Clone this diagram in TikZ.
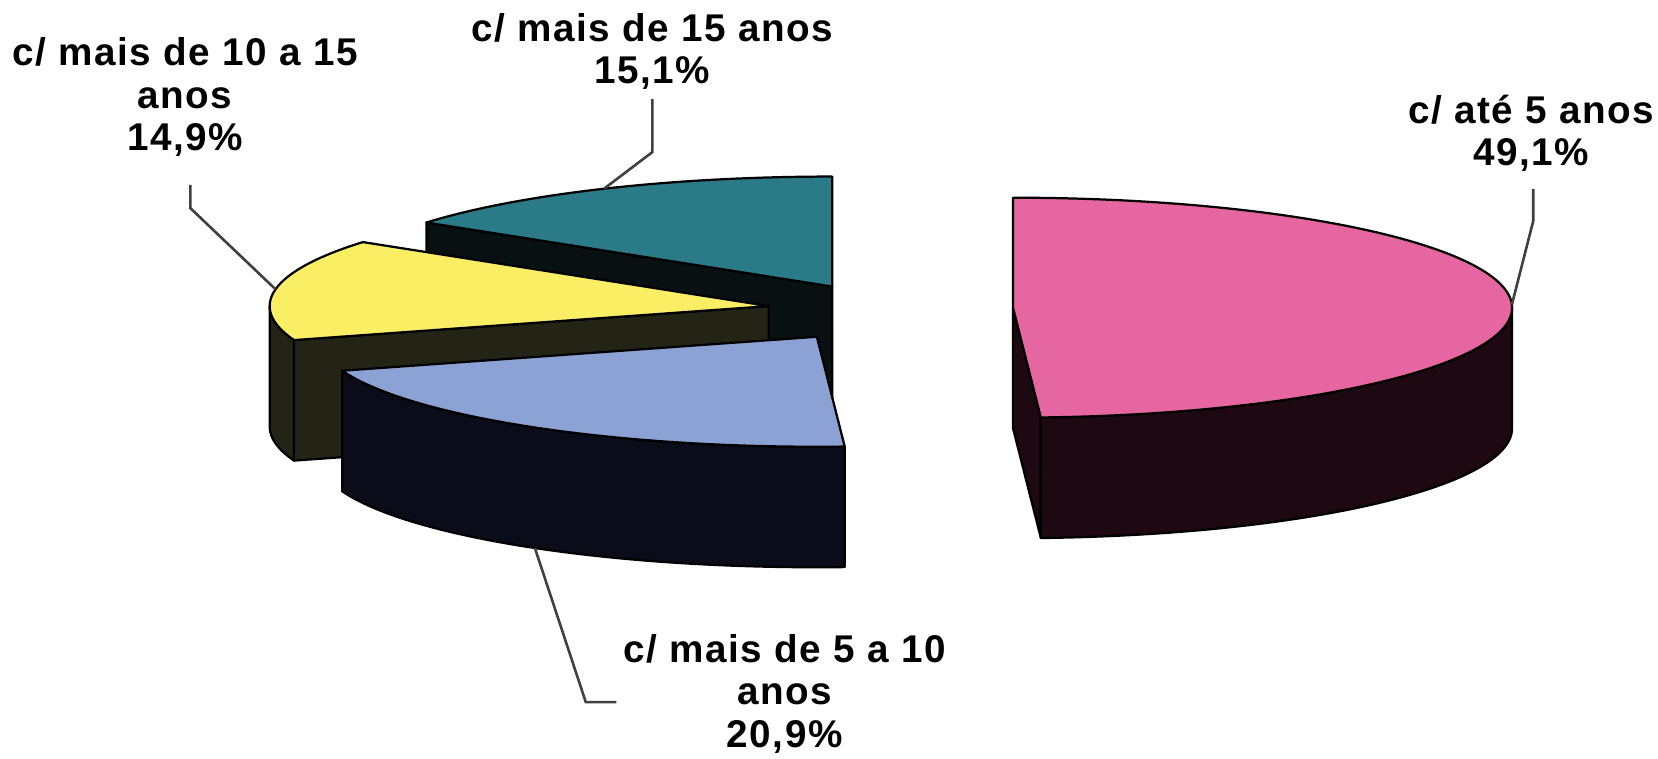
\documentclass[tikz,border=0pt]{standalone}
\usepackage{fontspec}
\newfontfamily\pielabel[LetterSpace=4]{Liberation Sans}

\definecolor{tealtop}{RGB}{42,122,136}
\definecolor{tealside}{RGB}{8,16,18}
\definecolor{yeltop}{RGB}{250,238,100}
\definecolor{yelside}{RGB}{36,36,22}
\definecolor{bluetop}{RGB}{140,162,212}
\definecolor{blueside}{RGB}{10,12,26}
\definecolor{pinktop}{RGB}{230,102,162}
\definecolor{pinkside}{RGB}{30,8,18}

\tikzset{
  slice/.style={draw=black, line width=0.6pt, line join=round},
  leader/.style={draw=black!75, line width=0.7pt},
  pielbl/.style={align=center, inner sep=0pt,
    font=\pielabel\bfseries\fontsize{10.4}{11.4}\selectfont},
}

\begin{document}
\begin{tikzpicture}
        \useasboundingbox (0,0) rectangle (15.68,7.17);

        % slice centres (exploded)
        \coordinate (tc) at (7.87,4.46);
        \coordinate (yc) at (7.27,4.275);
        \coordinate (bc) at (7.725,3.985);
        \coordinate (pc) at (9.58,4.26);

        % teal slice: 90 -- 144.4
        \draw[slice, fill=tealside] (tc) -- ++(144.4:4.72 and 1.04) -- ++(0,-1.14) -- ([yshift=-1.14cm]tc) -- cycle;
        \draw[slice, fill=tealtop] (tc) -- ++(90:4.72 and 1.04) arc[start angle=90, end angle=144.4, x radius=4.72, y radius=1.04] -- cycle;

        % yellow slice: 144.4 -- 198
        \draw[slice, fill=yelside] (yc) ++(180:4.72 and 1.04) arc[start angle=180, end angle=198, x radius=4.72, y radius=1.04] -- ++(0,-1.14) arc[start angle=198, end angle=180, x radius=4.72, y radius=1.04] -- cycle;
        \draw[slice, fill=yelside] (yc) -- ++(198:4.72 and 1.04) -- ++(0,-1.14) -- ([yshift=-1.14cm]yc) -- cycle;
        \draw[slice, fill=yeltop] (yc) -- ++(144.4:4.72 and 1.04) arc[start angle=144.4, end angle=198, x radius=4.72, y radius=1.04] -- cycle;

        % blue slice: 198 -- 273.2
        \draw[slice, fill=blueside] (bc) ++(198:4.72 and 1.04) arc[start angle=198, end angle=273.2, x radius=4.72, y radius=1.04] -- ++(0,-1.14) arc[start angle=273.2, end angle=198, x radius=4.72, y radius=1.04] -- cycle;
        \draw[slice, fill=bluetop] (bc) -- ++(198:4.72 and 1.04) arc[start angle=198, end angle=273.2, x radius=4.72, y radius=1.04] -- cycle;

        % pink slice: 273.2 -- 450
        \draw[slice, fill=pinkside] (pc) -- ++(273.2:4.72 and 1.04) -- ++(0,-1.14) -- ([yshift=-1.14cm]pc) -- cycle;
        \draw[slice, fill=pinkside] (pc) ++(273.2:4.72 and 1.04) arc[start angle=273.2, end angle=360, x radius=4.72, y radius=1.04] -- ++(0,-1.14) arc[start angle=360, end angle=273.2, x radius=4.72, y radius=1.04] -- cycle;
        \draw[slice, fill=pinktop] (pc) -- ++(273.2:4.72 and 1.04) arc[start angle=273.2, end angle=450, x radius=4.72, y radius=1.04] -- cycle;

        % rim points for the leaders
        \path (yc) ++(171.2:4.72 and 1.04) coordinate (yrim);
        \path (tc) ++(117.2:4.72 and 1.04) coordinate (trim);
        \path (pc) ++(1.6:4.72 and 1.04) coordinate (prim);
        \path (bc) ++(235.6:4.72 and 1.04) ++(0,-1.14) coordinate (brim);

        % labels
        \node[pielbl] (lyel) at (1.75,6.25) {c/ mais de 10 a 15\\anos\\14,9\%};
        \node[pielbl] (ltea) at (6.17,6.68) {c/ mais de 15 anos\\15,1\%};
        \node[pielbl] (lpin) at (14.48,5.91) {c/ até 5 anos\\49,1\%};
        \node[pielbl] (lblu) at (7.42,0.61) {c/ mais de 5 a 10\\anos\\20,9\%};

        \draw[leader] ([xshift=0.5mm,yshift=-2.6mm]lyel.south) -- ++(0,-0.22) -- (yrim);
        \draw[leader] ([yshift=-0.8mm]ltea.south) -- ++(0,-0.5) -- (trim);
        \draw[leader] ([xshift=0.2mm,yshift=-1.6mm]lpin.south) -- ++(0,-0.3) -- (prim);
        \draw[leader] (brim) -- ([xshift=-3.5mm,yshift=-0.8mm]lblu.west) -- ([xshift=-0.6mm,yshift=-0.8mm]lblu.west);
\end{tikzpicture}
\end{document}
